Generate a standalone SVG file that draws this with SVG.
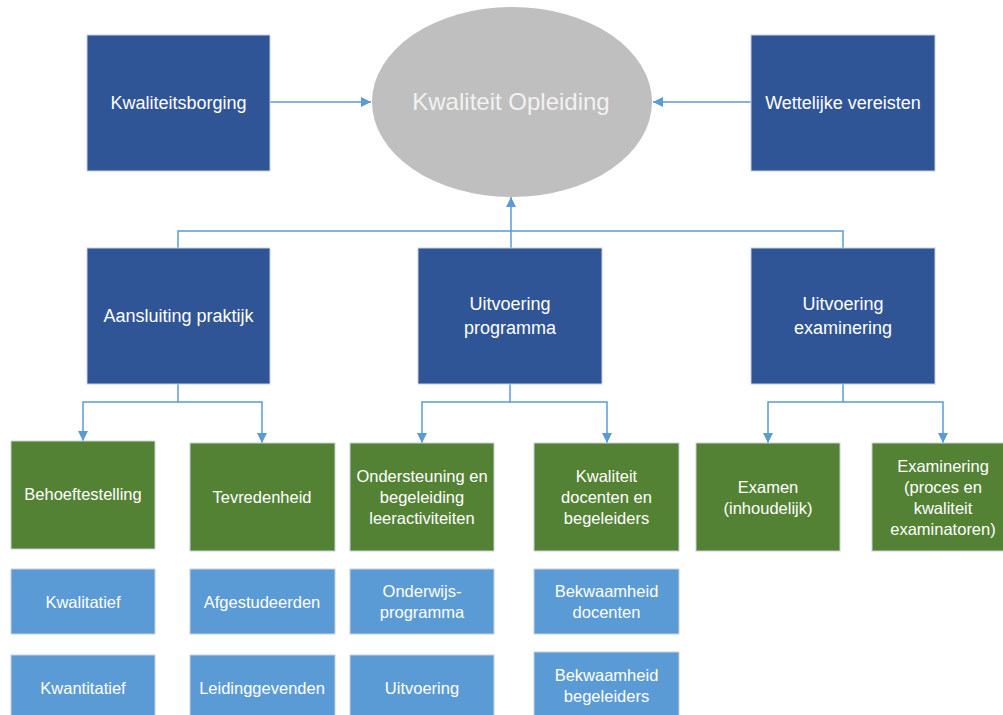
<svg xmlns="http://www.w3.org/2000/svg" width="1003" height="715" viewBox="0 0 1003 715">
<style>
text{font-family:"Liberation Sans",Arial,sans-serif;fill:#ffffff;text-anchor:middle}
.dk{fill:#2F5597;stroke:#C9CFDA;stroke-width:1}
.gr{fill:#548235;stroke:#C9CFDA;stroke-width:1}
.lb{fill:#5B9BD5;stroke:#C9CFDA;stroke-width:1}
.t18{font-size:18px}
.t16{font-size:16.5px}
.con{fill:none;stroke:#5B9BD5;stroke-width:1.5}
</style>
<defs>
<marker id="ah" viewBox="0 0 10 10" refX="10" refY="5" markerWidth="10" markerHeight="10" markerUnits="userSpaceOnUse" orient="auto">
<path d="M0,0 L10,5 L0,10 z" fill="#5B9BD5"/>
</marker>
</defs>
<rect width="1003" height="715" fill="#ffffff"/>
<g id="connectors">
<path class="con" d="M270,102 H371" marker-end="url(#ah)"/>
<path class="con" d="M751,102 H653" marker-end="url(#ah)"/>
<path class="con" d="M178,248 V231 H843 V248"/>
<path class="con" d="M511,248 V197" marker-end="url(#ah)"/>
<path class="con" d="M178,384 V402 H83 V441" marker-end="url(#ah)"/>
<path class="con" d="M178,402 H262 V443" marker-end="url(#ah)"/>
<path class="con" d="M510,384 V402 H422 V443" marker-end="url(#ah)"/>
<path class="con" d="M510,402 H607 V443" marker-end="url(#ah)"/>
<path class="con" d="M843,384 V402 H768 V443" marker-end="url(#ah)"/>
<path class="con" d="M843,402 H943 V443" marker-end="url(#ah)"/>
</g>
<g id="kwaliteit-opleiding">
<ellipse cx="512" cy="102" rx="140" ry="95" fill="#BFBFBF"/>
<text x="511" y="110" style="font-size:24px;fill:#F2F2F2">Kwaliteit Opleiding</text>
</g>
<g id="kwaliteitsborging">
<rect class="dk" x="87" y="35" width="183" height="136"/>
<text class="t18" x="178.5" y="109">Kwaliteitsborging</text>
</g>
<g id="wettelijke-vereisten">
<rect class="dk" x="751" y="35" width="184" height="136"/>
<text class="t18" x="843" y="109">Wettelijke vereisten</text>
</g>
<g id="aansluiting-praktijk">
<rect class="dk" x="87" y="248" width="183" height="136"/>
<text class="t18" x="178.5" y="322">Aansluiting praktijk</text>
</g>
<g id="uitvoering-programma">
<rect class="dk" x="418" y="248" width="184" height="136"/>
<text class="t18" x="510" y="310">Uitvoering</text>
<text class="t18" x="510" y="334">programma</text>
</g>
<g id="uitvoering-examinering">
<rect class="dk" x="751" y="248" width="184" height="136"/>
<text class="t18" x="843" y="310">Uitvoering</text>
<text class="t18" x="843" y="334">examinering</text>
</g>
<g id="behoeftestelling">
<rect class="gr" x="11" y="441" width="144" height="108"/>
<text class="t16" x="83" y="500">Behoeftestelling</text>
</g>
<g id="tevredenheid">
<rect class="gr" x="190" y="443" width="145" height="108"/>
<text class="t16" x="262" y="503">Tevredenheid</text>
</g>
<g id="ondersteuning">
<rect class="gr" x="350" y="443" width="144" height="108"/>
<text class="t16" x="422" y="482">Ondersteuning en</text>
<text class="t16" x="422" y="503">begeleiding</text>
<text class="t16" x="422" y="524">leeractiviteiten</text>
</g>
<g id="kwaliteit-docenten">
<rect class="gr" x="534" y="443" width="145" height="108"/>
<text class="t16" x="606.5" y="482">Kwaliteit</text>
<text class="t16" x="606.5" y="503">docenten en</text>
<text class="t16" x="606.5" y="524">begeleiders</text>
</g>
<g id="examen">
<rect class="gr" x="696" y="443" width="144" height="108"/>
<text class="t16" x="768" y="493">Examen</text>
<text class="t16" x="768" y="514">(inhoudelijk)</text>
</g>
<g id="examinering">
<rect class="gr" x="872" y="443" width="145" height="108"/>
<text class="t16" x="943" y="472">Examinering</text>
<text class="t16" x="943" y="493">(proces en</text>
<text class="t16" x="943" y="514">kwaliteit</text>
<text class="t16" x="943" y="535">examinatoren)</text>
</g>
<g id="kwalitatief">
<rect class="lb" x="11" y="569" width="144" height="65"/>
<text class="t16" x="83" y="608">Kwalitatief</text>
</g>
<g id="kwantitatief">
<rect class="lb" x="11" y="655" width="144" height="65"/>
<text class="t16" x="83" y="694">Kwantitatief</text>
</g>
<g id="afgestudeerden">
<rect class="lb" x="190" y="569" width="145" height="65"/>
<text class="t16" x="262" y="608">Afgestudeerden</text>
</g>
<g id="leidinggevenden">
<rect class="lb" x="190" y="655" width="145" height="65"/>
<text class="t16" x="262" y="694">Leidinggevenden</text>
</g>
<g id="onderwijsprogramma">
<rect class="lb" x="350" y="569" width="144" height="65"/>
<text class="t16" x="422" y="597">Onderwijs-</text>
<text class="t16" x="422" y="618">programma</text>
</g>
<g id="uitvoering">
<rect class="lb" x="350" y="655" width="144" height="65"/>
<text class="t16" x="422" y="694">Uitvoering</text>
</g>
<g id="bekwaamheid-docenten">
<rect class="lb" x="534" y="569" width="145" height="65"/>
<text class="t16" x="606.5" y="597">Bekwaamheid</text>
<text class="t16" x="606.5" y="618">docenten</text>
</g>
<g id="bekwaamheid-begeleiders">
<rect class="lb" x="534" y="652" width="145" height="68"/>
<text class="t16" x="606.5" y="681">Bekwaamheid</text>
<text class="t16" x="606.5" y="702">begeleiders</text>
</g>
</svg>
